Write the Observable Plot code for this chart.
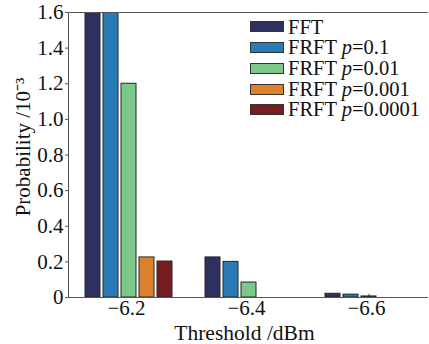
<!DOCTYPE html>
<html><head><meta charset="utf-8">
<script src="https://cdn.jsdelivr.net/npm/d3@7"></script>
<script src="https://cdn.jsdelivr.net/npm/@observablehq/plot@0.6"></script>
<style>
body{margin:0;background:#fff;}
#wrap{position:relative;width:429px;height:344px;}
#legend{position:absolute;left:250px;top:16.6px;font-family:"Liberation Serif",serif;font-size:20.5px;color:#111;}
.row{display:flex;align-items:center;height:20.7px;white-space:nowrap;}
.row span{line-height:1;}
.sw{width:32px;height:9px;border:1px solid #333;margin-right:4px;}
</style></head>
<body><div id="wrap"></div>
<script>
const thresholds = ["-6.2", "-6.4", "-6.6"];
const series = ["FFT", "FRFT p=0.1", "FRFT p=0.01", "FRFT p=0.001", "FRFT p=0.0001"];
const colors = ["#2e3060", "#2a7ab5", "#7cc88a", "#dd822c", "#761c22"];
// values per series, one per threshold (×10^-3); first two at -6.2 exceed the axis
const fftValues = [1.8, 0.225, 0.021];
const p1Values = [1.7, 0.2, 0.016];
const p01Values = [1.2, 0.084, 0.006];
const p001Values = [0.225, 0, 0];
const p0001Values = [0.202, 0, 0];
const yTicks = [0, 0.2, 0.4, 0.6, 0.8, 1.0, 1.2, 1.4, 1.6];
const xLabel = "Threshold /dBm";
const yLabel = "Probability /10⁻³";

const seriesValues = [fftValues, p1Values, p01Values, p001Values, p0001Values];
const data = thresholds.flatMap((t, j) => series.map((s, i) => ({threshold: t, series: s, value: seriesValues[i][j]})))
  .filter(d => d.value > 0);

const fmtX = t => t.replace("-", "\u2212");
const fmtY = d => d === 0 ? "0" : d.toFixed(1);

const chart = Plot.plot({
  width: 429, height: 344,
  marginLeft: 68, marginTop: 12, marginBottom: 47, marginRight: 1,
  style: {fontFamily: "'Liberation Serif', serif", fontSize: "21px", color: "#111", background: "#fff"},
  fx: {domain: thresholds, padding: 0, label: null},
  x: {domain: series, paddingInner: 0.18, paddingOuter: 0.87, axis: null},
  y: {domain: [0, 1.6], label: null},
  color: {domain: series, range: colors},
  marks: [
    Plot.ruleX(thresholds, {fx: d => d, x: () => series[2], y1: 0, y2: 0.018, stroke: "#333"}),
    Plot.rectY(data, {fx: "threshold", x: "series", y: "value", fill: "series", stroke: "#262626", strokeWidth: 1, clip: true}),
    Plot.ruleY([0], {stroke: "#555"}),
    Plot.ruleY([1.6], {stroke: "#555"}),
    Plot.frame({anchor: "left", stroke: "#555", fx: () => thresholds[0]}),
    Plot.axisY({ticks: yTicks, tickSize: 3, tickPadding: 2, tickFormat: fmtY, label: null, stroke: "#555"}),
    Plot.axisFx({anchor: "bottom", tickSize: 0, tickPadding: 3, textAnchor: "middle", tickFormat: fmtX, label: null, dx: -2}),
    Plot.text([yLabel], {fx: () => thresholds[0], frameAnchor: "left", rotate: -90, textAnchor: "middle", lineAnchor: "middle", dx: -45, dy: -8, fontSize: 21}),
    Plot.text([xLabel], {fx: () => thresholds[1], frameAnchor: "bottom", textAnchor: "middle", lineAnchor: "bottom", dx: -4, dy: 42, fontSize: 21.5})
  ]
});
const wrap = document.getElementById("wrap");
wrap.appendChild(chart);

const legend = document.createElement("div");
legend.id = "legend";
series.forEach((s, i) => {
  const row = document.createElement("div");
  row.className = "row";
  const sw = document.createElement("div");
  sw.className = "sw";
  sw.style.background = colors[i];
  row.appendChild(sw);
  const lab = document.createElement("span");
  const m = s.match(/^(.*?) p(=.*)$/);
  if (m) {
    lab.appendChild(document.createTextNode(m[1] + " "));
    const it = document.createElement("i");
    it.textContent = "p";
    lab.appendChild(it);
    lab.appendChild(document.createTextNode(m[2]));
  } else lab.textContent = s;
  row.appendChild(lab);
  legend.appendChild(row);
});
wrap.appendChild(legend);
</script>
</body></html>
